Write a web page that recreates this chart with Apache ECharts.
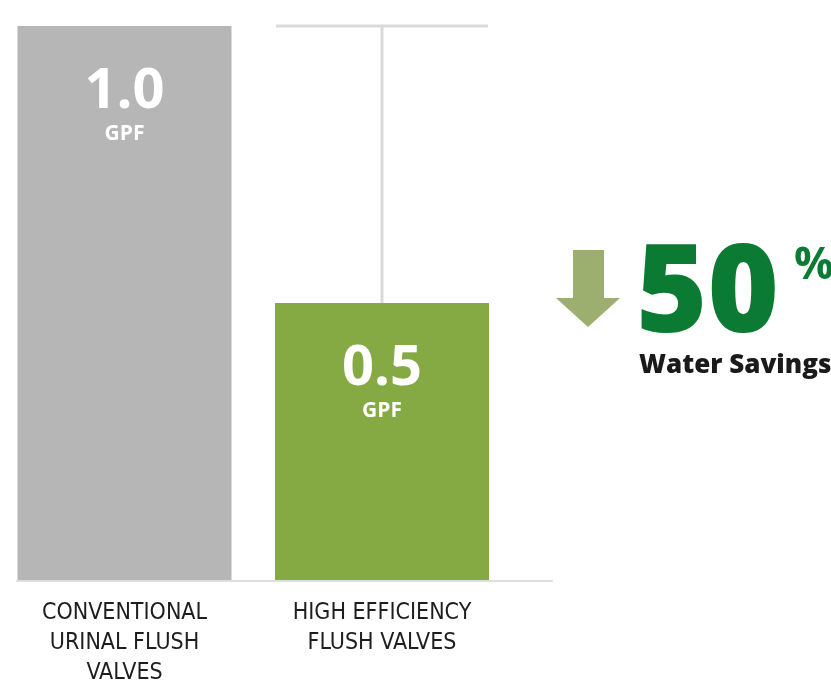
<!DOCTYPE html>
<html>
<head>
<meta charset="utf-8">
<script src="https://cdn.jsdelivr.net/npm/echarts@6/dist/echarts.min.js"></script>
<style>
  html, body { margin: 0; padding: 0; background: #fff; }
  #chart { width: 831px; height: 688px; }
</style>
</head>
<body>
<div id="chart"></div>
<script>
// data
const categories = ['CONVENTIONAL\nURINAL FLUSH\nVALVES', 'HIGH EFFICIENCY\nFLUSH VALVES'];
const gpfValues = [1.0, 0.5];
const barColors = ['#b6b6b6', '#86aa43'];
const unitLabel = 'GPF';
const savingsPct = '50';
const savingsText = 'Water Savings';

const myChart = echarts.init(document.getElementById('chart'));

const barData = gpfValues.map(function (v, i) {
  return { value: v, itemStyle: { color: barColors[i] } };
});

// bracket from the conventional level down to the efficient bar
const bracketData = [[1, gpfValues[1], gpfValues[0]]];

const option = {
  animation: false,
  grid: [
    // bar centres sit on the two category ticks
    { left: 124.5, right: 449, top: 26, bottom: 107 },
    // only used for the base line
    { left: 17, right: 279, top: 26, bottom: 107 }
  ],
  xAxis: [
    {
      type: 'category',
      gridIndex: 0,
      data: categories,
      boundaryGap: false,
      axisLine: { show: false },
      axisTick: { show: false },
      axisLabel: {
        margin: 18,
        color: '#1e1e1e',
        fontSize: 23,
        lineHeight: 30,
        fontFamily: 'DejaVu Sans Condensed',
        align: 'center'
      }
    },
    {
      type: 'category',
      gridIndex: 1,
      data: [''],
      axisLine: { show: true, lineStyle: { color: '#dedede', width: 2 } },
      axisTick: { show: false },
      axisLabel: { show: false }
    }
  ],
  yAxis: [
    { type: 'value', gridIndex: 0, min: 0, max: 1, show: false },
    { type: 'value', gridIndex: 1, min: 0, max: 1, show: false }
  ],
  series: [
    {
      type: 'custom',
      xAxisIndex: 0,
      yAxisIndex: 0,
      z: 1,
      silent: true,
      clip: false,
      data: bracketData,
      renderItem: function (params, api) {
        const top = api.coord([api.value(0), api.value(2)]);
        const bottom = api.coord([api.value(0), api.value(1)]);
        const half = 106;
        const style = { stroke: '#dadada', lineWidth: 3 };
        return {
          type: 'group',
          children: [
            { type: 'line', shape: { x1: top[0] - half, y1: top[1], x2: top[0] + half, y2: top[1] }, style: style },
            { type: 'line', shape: { x1: top[0], y1: top[1], x2: bottom[0], y2: bottom[1] }, style: style }
          ]
        };
      }
    },
    {
      type: 'bar',
      xAxisIndex: 0,
      yAxisIndex: 0,
      z: 2,
      clip: false,
      barWidth: 214,
      data: barData,
      label: {
        show: true,
        position: 'insideTop',
        distance: 36,
        formatter: function (p) {
          return '{v|' + p.value.toFixed(1) + '}\n{u|' + unitLabel + '}';
        },
        rich: {
          v: { fontSize: 56, fontWeight: 'bold', color: '#fff', lineHeight: 60, fontFamily: 'Open Sans' },
          u: { fontSize: 21, fontWeight: 'bold', color: '#fff', lineHeight: 24, fontFamily: 'Open Sans' }
        }
      }
    }
  ],
  graphic: [
    {
      type: 'polygon',
      shape: {
        points: [[573, 250], [604, 250], [604, 298], [620, 298], [588, 327], [556, 298], [573, 298]]
      },
      style: { fill: '#9caf6e' }
    },
    {
      type: 'text',
      left: 636,
      top: 236,
      style: {
        text: savingsPct,
        fill: '#0b7a33',
        fontSize: 122,
        fontWeight: 800,
        fontFamily: 'Open Sans'
      }
    },
    {
      type: 'text',
      left: 794,
      top: 244,
      style: {
        text: '%',
        fill: '#0b7a33',
        fontSize: 44,
        fontWeight: 'bold',
        fontFamily: 'Open Sans'
      }
    },
    {
      type: 'text',
      left: 639,
      top: 353,
      style: {
        text: savingsText,
        fill: '#1a1a1a',
        fontSize: 26,
        fontWeight: 800,
        fontFamily: 'Open Sans'
      }
    }
  ]
};

myChart.setOption(option);
</script>
</body>
</html>
